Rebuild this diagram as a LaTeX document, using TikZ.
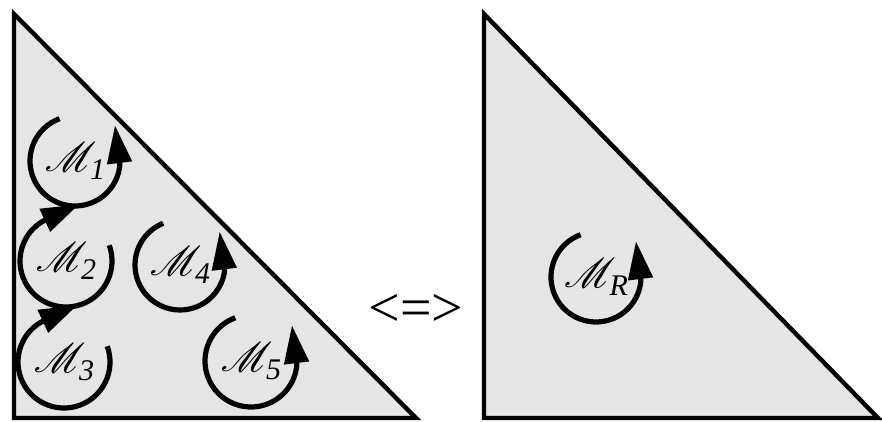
\documentclass[tikz,border=0pt]{standalone}
\usepackage{fontspec}
\setmainfont{Liberation Serif}
\usepackage{mathrsfs}
\usetikzlibrary{arrows.meta}
\definecolor{panelgray}{RGB}{229,229,229}

\begin{document}
\begin{tikzpicture}[x=0.5pt, y=0.5pt,
  panel/.style={draw=black, fill=panelgray, line width=2.2pt},
  mlabel/.style={font=\fontsize{20}{24}\selectfont, inner sep=0pt},
  loopy/.style={line width=2.6pt, -{Triangle[length=19pt, width=12pt]}},
]
\useasboundingbox (0,0) rectangle (882,422);

% Left panel: five small loops
\draw[panel] (14,408) -- (14,4) -- (416,4) -- cycle;

\node[mlabel] (m1) at (75,261) {$\mathscr{M}$\kern-3pt\raisebox{-4pt}{\fontsize{15}{15}\selectfont\itshape 1}};
\node[mlabel] (m2) at (66,161) {$\mathscr{M}$\kern-3pt\raisebox{-4pt}{\fontsize{15}{15}\selectfont\itshape 2}};
\node[mlabel] (m3) at (64,60) {$\mathscr{M}$\kern-3pt\raisebox{-4pt}{\fontsize{15}{15}\selectfont\itshape 3}};
\node[mlabel] (m4) at (180,157) {$\mathscr{M}$\kern-3pt\raisebox{-4pt}{\fontsize{15}{15}\selectfont\itshape 4}};
\node[mlabel] (m5) at (251,61) {$\mathscr{M}$\kern-3pt\raisebox{-4pt}{\fontsize{15}{15}\selectfont\itshape 5}};

% counter-clockwise loops
\draw[loopy] ([shift={(110:45)}]m1.center)
  arc[start angle=110, end angle=355, radius=45] -- ++(97:40);
\draw[loopy] ([shift={(112:45)}]m4.center)
  arc[start angle=112, end angle=352, radius=45] -- ++(97:40);
\draw[loopy] ([shift={(110:46)}]m5.center)
  arc[start angle=110, end angle=355, radius=46] -- ++(97:40);
% clockwise loops
\draw[loopy] ([shift={(20:46)}]m2.center)
  arc[start angle=20, end angle=-240, radius=46] -- ++(25:40);
\draw[loopy] ([shift={(20:46)}]m3.center)
  arc[start angle=20, end angle=-240, radius=46] -- ++(25:40);

% Equivalence sign
\node[font=\fontsize{28}{30}\selectfont] (equiv) at (416,112) {<=>};

% Right panel: one large loop
\draw[panel] (484,408) -- (484,4) -- (878,4) -- cycle;

\node[mlabel] (mr) at (596,145) {$\mathscr{M}$\kern-3pt\raisebox{-4pt}{\fontsize{15}{15}\selectfont\itshape R}};
\draw[loopy] ([shift={(110:45)}]mr.center)
  arc[start angle=110, end angle=355, radius=45] -- ++(97:40);
\end{tikzpicture}
\end{document}
